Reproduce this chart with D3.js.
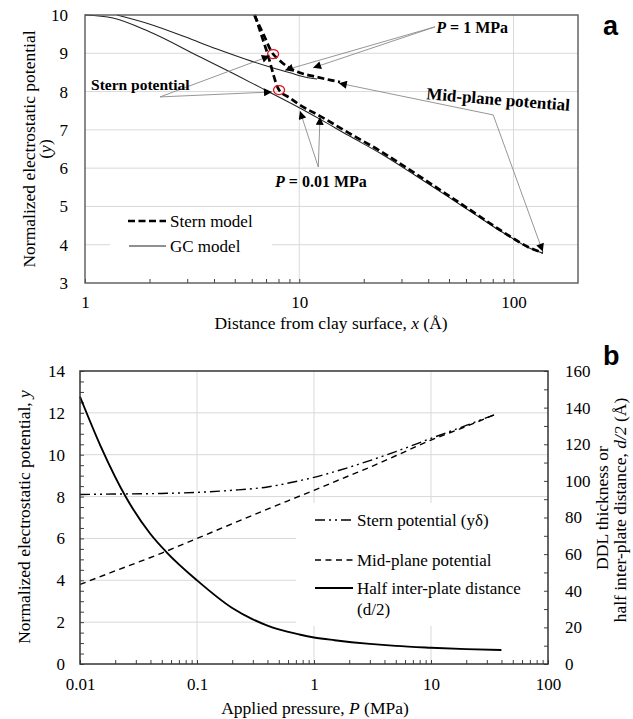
<!DOCTYPE html>
<html>
<head>
<meta charset="utf-8">
<script src="https://cdn.jsdelivr.net/npm/d3@7"></script>
<style>
body { margin: 0; background: #fff; }
svg { font-family: "Liberation Serif", "Times New Roman", serif; }
</style>
</head>
<body>
<div id="chart"></div>
<script>
// ---------- panel a : potential profiles ----------
// GC model, P = 0.01 MPa
var gcLowX = [1, 1.35, 2, 3.45, 5, 7, 10, 12.5, 17, 24, 35, 49, 70, 84, 100, 120, 137];
var gcLowY = [10, 9.92, 9.56, 8.9, 8.45, 8.03, 7.58, 7.28, 6.85, 6.38, 5.8, 5.27, 4.7, 4.41, 4.15, 3.9, 3.78];
// GC model, P = 1 MPa
var gcUpX = [1.41, 2.01, 2.93, 4.13, 5.58, 7.3, 9.05, 10.6, 12.1];
var gcUpY = [10, 9.76, 9.43, 9.11, 8.85, 8.64, 8.49, 8.38, 8.33];
// Stern model, P = 0.01 MPa
var sternLowX = [6.2, 7.1, 8.05, 9, 10, 12.5, 17, 24, 35, 49, 70, 84, 100, 120, 137];
var sternLowY = [10, 9.0, 8.04, 7.84, 7.66, 7.36, 6.92, 6.44, 5.85, 5.31, 4.73, 4.43, 4.16, 3.91, 3.79];
// Stern model, P = 1 MPa
var sternUpX = [6.17, 6.8, 7.5, 8.0, 8.8, 10, 12.1, 14, 15.5];
var sternUpY = [10, 9.5, 9.0, 8.84, 8.65, 8.5, 8.38, 8.3, 8.25];
// red circles on the Stern potential
var circleX = [7.55, 8.05];
var circleY = [8.98, 8.04];

var xTicksA = [1, 2, 3, 4, 5, 6, 7, 8, 9, 10, 20, 30, 40, 50, 60, 70, 80, 90, 100];
var xLabelsA = [1, 10, 100];
var yTicksA = [3, 4, 5, 6, 7, 8, 9, 10];

// annotation leader lines [fromX, fromY, toX, toY] in data units
var leaderA = [
  [43.0, 9.69, 8.58, 8.56],
  [43.0, 9.69, 11.6, 8.62],
  [2.24, 7.86, 7.29, 8.93],
  [2.24, 7.86, 7.46, 7.99],
  [12.27, 6.03, 10.08, 7.49],
  [12.27, 6.03, 12.5, 7.34],
  [80.4, 7.39, 15.3, 8.22],
  [80.4, 7.39, 137, 3.82]
];

// ---------- panel b : vs applied pressure ----------
var pStern = [0.01, 0.02, 0.05, 0.1, 0.2, 0.4, 0.7, 1, 2, 3, 5, 10, 20, 37];
var yStern = [8.1, 8.12, 8.15, 8.2, 8.3, 8.46, 8.72, 8.92, 9.4, 9.72, 10.15, 10.78, 11.4, 11.97];
var pMid = [0.01, 0.02, 0.05, 0.1, 0.2, 0.4, 0.7, 1, 2, 3, 5, 10, 20, 37];
var yMid = [3.8, 4.45, 5.3, 6.0, 6.7, 7.4, 7.95, 8.3, 9.0, 9.4, 9.95, 10.7, 11.35, 11.97];
var pHalf = [0.01, 0.015, 0.025, 0.04, 0.055, 0.1, 0.2, 0.3, 0.4, 0.5, 0.75, 1, 1.5, 3, 5, 10, 20, 40];
var dHalf = [146, 119, 90.5, 71, 61, 45.7, 30.6, 24.4, 21.0, 18.9, 16.1, 14.5, 13.0, 11.0, 9.9, 8.9, 8.1, 7.6];

var xTicksB = [0.01, 0.02, 0.03, 0.04, 0.05, 0.06, 0.07, 0.08, 0.09, 0.1, 0.2, 0.3, 0.4, 0.5, 0.6, 0.7, 0.8, 0.9, 1,
  2, 3, 4, 5, 6, 7, 8, 9, 10, 20, 30, 40, 50, 60, 70, 80, 90, 100];
var xLabelsB = [0.01, 0.1, 1, 10, 100];
var xLabelTextB = ["0.01", "0.1", "1", "10", "100"];
var yLabelsB = [0, 2, 4, 6, 8, 10, 12, 14];
var yLabelsB2 = [0, 20, 40, 60, 80, 100, 120, 140, 160];

var svg = d3.select("#chart").append("svg")
  .attr("width", 633)
  .attr("height", 719);

var defs = svg.append("defs");
defs.append("marker")
  .attr("id", "arrow")
  .attr("viewBox", "0 0 10 10")
  .attr("refX", 10).attr("refY", 5)
  .attr("markerWidth", 10).attr("markerHeight", 8)
  .attr("markerUnits", "userSpaceOnUse")
  .attr("orient", "auto")
  .append("path").attr("d", "M0,0 L10,5 L0,10 z").attr("fill", "#000");

function styleAxis(g) {
  g.select(".domain").remove();
  g.selectAll("line").attr("stroke", "#404040");
  g.selectAll("text")
    .attr("font-family", "'Liberation Serif', serif")
    .attr("font-size", 17)
    .attr("fill", "#000");
}

var zip = function (xs, ys) { return xs.map(function (v, i) { return [v, ys[i]]; }); };

// ================= PANEL A =================
var xA = d3.scaleLog().domain([1, 200]).range([85, 578]);
var yA = d3.scaleLinear().domain([3, 10]).range([283, 15]);
var lineA = d3.line().x(d => xA(d[0])).y(d => yA(d[1])).curve(d3.curveMonotoneX);

var gA = svg.append("g");

gA.selectAll(".hgridA")
  .data([4, 5, 6, 7, 8, 9])
  .join("line")
  .attr("x1", 85).attr("x2", 578)
  .attr("y1", d => yA(d)).attr("y2", d => yA(d))
  .attr("stroke", "#d9d9d9");
gA.selectAll(".vgridA")
  .data([10, 100])
  .join("line")
  .attr("x1", d => xA(d)).attr("x2", d => xA(d))
  .attr("y1", 15).attr("y2", 283)
  .attr("stroke", "#d9d9d9");

// legend box hides grid
gA.append("rect").attr("x", 110).attr("y", 209).attr("width", 162).attr("height", 53).attr("fill", "#fff");

gA.append("g")
  .attr("transform", "translate(0,283)")
  .call(d3.axisBottom(xA).tickValues(xTicksA).tickSizeInner(-4).tickSizeOuter(0).tickPadding(13)
    .tickFormat(d => xLabelsA.indexOf(d) >= 0 ? d : ""))
  .call(styleAxis);

gA.append("g")
  .attr("transform", "translate(85,0)")
  .call(d3.axisLeft(yA).tickValues(yTicksA).tickSize(0).tickPadding(17).tickFormat(d3.format("d")))
  .call(styleAxis);

// curves
gA.append("path").datum(zip(gcLowX, gcLowY)).attr("d", lineA)
  .attr("fill", "none").attr("stroke", "#222").attr("stroke-width", 1.1);
gA.append("path").datum(zip(gcUpX, gcUpY)).attr("d", lineA)
  .attr("fill", "none").attr("stroke", "#222").attr("stroke-width", 1.1);
gA.append("path").datum(zip(sternLowX, sternLowY)).attr("d", lineA)
  .attr("fill", "none").attr("stroke", "#000").attr("stroke-width", 2.7).attr("stroke-dasharray", "7,3.5");
gA.append("path").datum(zip(sternUpX, sternUpY)).attr("d", lineA)
  .attr("fill", "none").attr("stroke", "#000").attr("stroke-width", 2.7).attr("stroke-dasharray", "7,3.5");

gA.selectAll(".circ")
  .data(zip(circleX, circleY))
  .join("ellipse")
  .attr("cx", d => xA(d[0])).attr("cy", d => yA(d[1]))
  .attr("rx", 5.5).attr("ry", 4.5)
  .attr("fill", "none").attr("stroke", "#e0141e").attr("stroke-width", 1.3);

// leader lines
gA.selectAll(".leader")
  .data(leaderA)
  .join("line")
  .attr("x1", d => xA(d[0])).attr("y1", d => yA(d[1]))
  .attr("x2", d => xA(d[2])).attr("y2", d => yA(d[3]))
  .attr("stroke", "#8a8a8a").attr("stroke-width", 0.9)
  .attr("marker-end", "url(#arrow)");

// annotation texts
var t1 = gA.append("text").attr("x", xA(43.6)).attr("y", yA(9.53))
  .attr("font-weight", "bold").attr("font-size", 16);
t1.append("tspan").attr("font-style", "italic").text("P");
t1.append("tspan").text(" = 1 MPa");

gA.append("text").attr("x", xA(1.067)).attr("y", yA(8.04))
  .attr("font-weight", "bold").attr("font-size", 15.5).text("Stern potential");

var t2 = gA.append("text").attr("x", xA(7.71)).attr("y", yA(5.51))
  .attr("font-weight", "bold").attr("font-size", 16);
t2.append("tspan").attr("font-style", "italic").text("P");
t2.append("tspan").text(" = 0.01 MPa");

gA.append("text")
  .attr("transform", "translate(" + xA(39) + "," + yA(7.8) + ") rotate(4.6)")
  .attr("font-weight", "bold").attr("font-size", 17).text("Mid-plane potential");

// border
gA.append("rect").attr("x", 85).attr("y", 15).attr("width", 493).attr("height", 268)
  .attr("fill", "none").attr("stroke", "#595959").attr("stroke-width", 1.4);

// legend a
gA.append("line").attr("x1", 128).attr("x2", 166).attr("y1", 221).attr("y2", 221)
  .attr("stroke", "#000").attr("stroke-width", 2.7).attr("stroke-dasharray", "7,3.5");
gA.append("text").attr("x", 170).attr("y", 227).attr("font-size", 17).text("Stern model");
gA.append("line").attr("x1", 129).attr("x2", 166).attr("y1", 246).attr("y2", 246)
  .attr("stroke", "#222").attr("stroke-width", 1.1);
gA.append("text").attr("x", 170).attr("y", 252).attr("font-size", 17).text("GC model");

// axis titles a
var xtA = gA.append("text").attr("x", 331).attr("y", 329).attr("text-anchor", "middle").attr("font-size", 17.5);
xtA.append("tspan").text("Distance from clay surface, ");
xtA.append("tspan").attr("font-style", "italic").text("x");
xtA.append("tspan").text(" (Å)");

gA.append("text").attr("transform", "translate(35,149) rotate(-90)")
  .attr("text-anchor", "middle").attr("font-size", 17.5).text("Normalized electrostatic potential");
var ytA = gA.append("text").attr("transform", "translate(51,149) rotate(-90)")
  .attr("text-anchor", "middle").attr("font-size", 17.5);
ytA.append("tspan").text("(");
ytA.append("tspan").attr("font-style", "italic").text("y");
ytA.append("tspan").text(")");

svg.append("text").attr("x", 603).attr("y", 35)
  .attr("font-family", "'Liberation Sans', Arial, sans-serif").attr("font-weight", "bold")
  .attr("font-size", 27).text("a");

// ================= PANEL B =================
var xB = d3.scaleLog().domain([0.01, 100]).range([80, 548]);
var yB = d3.scaleLinear().domain([0, 14]).range([664, 371]);
var yB2 = d3.scaleLinear().domain([0, 160]).range([664, 371]);

var gB = svg.append("g");

gB.selectAll(".hgridB")
  .data([2, 4, 6, 8, 10, 12])
  .join("line")
  .attr("x1", 80).attr("x2", 548)
  .attr("y1", d => yB(d)).attr("y2", d => yB(d))
  .attr("stroke", "#d9d9d9");
gB.selectAll(".vgridB")
  .data([0.1, 1, 10])
  .join("line")
  .attr("x1", d => xB(d)).attr("x2", d => xB(d))
  .attr("y1", 371).attr("y2", 664)
  .attr("stroke", "#d9d9d9");

gB.append("rect").attr("x", 296).attr("y", 503).attr("width", 251).attr("height", 123).attr("fill", "#fff");

gB.append("g")
  .attr("transform", "translate(0,664)")
  .call(d3.axisBottom(xB).tickValues(xTicksB).tickSizeInner(-4).tickSizeOuter(0).tickPadding(14)
    .tickFormat(d => {
      var i = xLabelsB.indexOf(d);
      return i >= 0 ? xLabelTextB[i] : "";
    }))
  .call(styleAxis);

gB.append("g")
  .attr("transform", "translate(80,0)")
  .call(d3.axisLeft(yB).tickValues(d3.range(0, 14.01, 0.5)).tickSizeInner(-4).tickSizeOuter(0).tickPadding(15)
    .tickFormat(d => yLabelsB.indexOf(d) >= 0 ? d : ""))
  .call(styleAxis);

gB.append("g")
  .attr("transform", "translate(548,0)")
  .call(d3.axisRight(yB2).tickValues(d3.range(0, 161, 10)).tickSizeInner(-4).tickSizeOuter(0).tickPadding(17)
    .tickFormat(d => yLabelsB2.indexOf(d) >= 0 ? d : ""))
  .call(styleAxis);

var lineB = d3.line().x(d => xB(d[0])).y(d => yB(d[1])).curve(d3.curveMonotoneX);
var lineB2 = d3.line().x(d => xB(d[0])).y(d => yB2(d[1])).curve(d3.curveMonotoneX);

gB.append("path").datum(zip(pStern, yStern)).attr("d", lineB)
  .attr("fill", "none").attr("stroke", "#000").attr("stroke-width", 1.4).attr("stroke-dasharray", "10,4,2,4,2,4");
gB.append("path").datum(zip(pMid, yMid)).attr("d", lineB)
  .attr("fill", "none").attr("stroke", "#000").attr("stroke-width", 1.4).attr("stroke-dasharray", "6,4.5");
gB.append("path").datum(zip(pHalf, dHalf)).attr("d", lineB2)
  .attr("fill", "none").attr("stroke", "#000").attr("stroke-width", 1.9);

// border
gB.append("rect").attr("x", 80).attr("y", 371).attr("width", 468).attr("height", 293)
  .attr("fill", "none").attr("stroke", "#333").attr("stroke-width", 1.5);

// legend b
var legB = [
  { label: "Stern potential (yδ)", dash: "10,4,2,4,2,4", w: 1.4, y: 520 },
  { label: "Mid-plane potential", dash: "6,4.5", w: 1.4, y: 560 },
  { label: "Half inter-plate distance", dash: null, w: 1.9, y: 588 }
];
legB.forEach(function (d) {
  gB.append("line").attr("x1", 315).attr("x2", 353).attr("y1", d.y).attr("y2", d.y)
    .attr("stroke", "#000").attr("stroke-width", d.w).attr("stroke-dasharray", d.dash);
  gB.append("text").attr("x", 357).attr("y", d.y + 6).attr("font-size", 17).text(d.label);
});
gB.append("text").attr("x", 357).attr("y", 615).attr("font-size", 17).text("(d/2)");

// axis titles b
var xtB = gB.append("text").attr("x", 315).attr("y", 714).attr("text-anchor", "middle").attr("font-size", 17.5);
xtB.append("tspan").text("Applied pressure, ");
xtB.append("tspan").attr("font-style", "italic").text("P");
xtB.append("tspan").text(" (MPa)");

var ytB = gB.append("text").attr("transform", "translate(30,517) rotate(-90)")
  .attr("text-anchor", "middle").attr("font-size", 17.5);
ytB.append("tspan").text("Normalized electrostatic potential, ");
ytB.append("tspan").attr("font-style", "italic").text("y");

gB.append("text").attr("transform", "translate(608,508) rotate(-90)")
  .attr("text-anchor", "middle").attr("font-size", 17.5).text("DDL thickness or");
var rtB = gB.append("text").attr("transform", "translate(626,510) rotate(-90)")
  .attr("text-anchor", "middle").attr("font-size", 17.5);
rtB.append("tspan").text("half inter-plate distance, ");
rtB.append("tspan").attr("font-style", "italic").text("d/2");
rtB.append("tspan").text(" (Å)");

svg.append("text").attr("x", 603).attr("y", 365)
  .attr("font-family", "'Liberation Sans', Arial, sans-serif").attr("font-weight", "bold")
  .attr("font-size", 27).text("b");
</script>
</body>
</html>
